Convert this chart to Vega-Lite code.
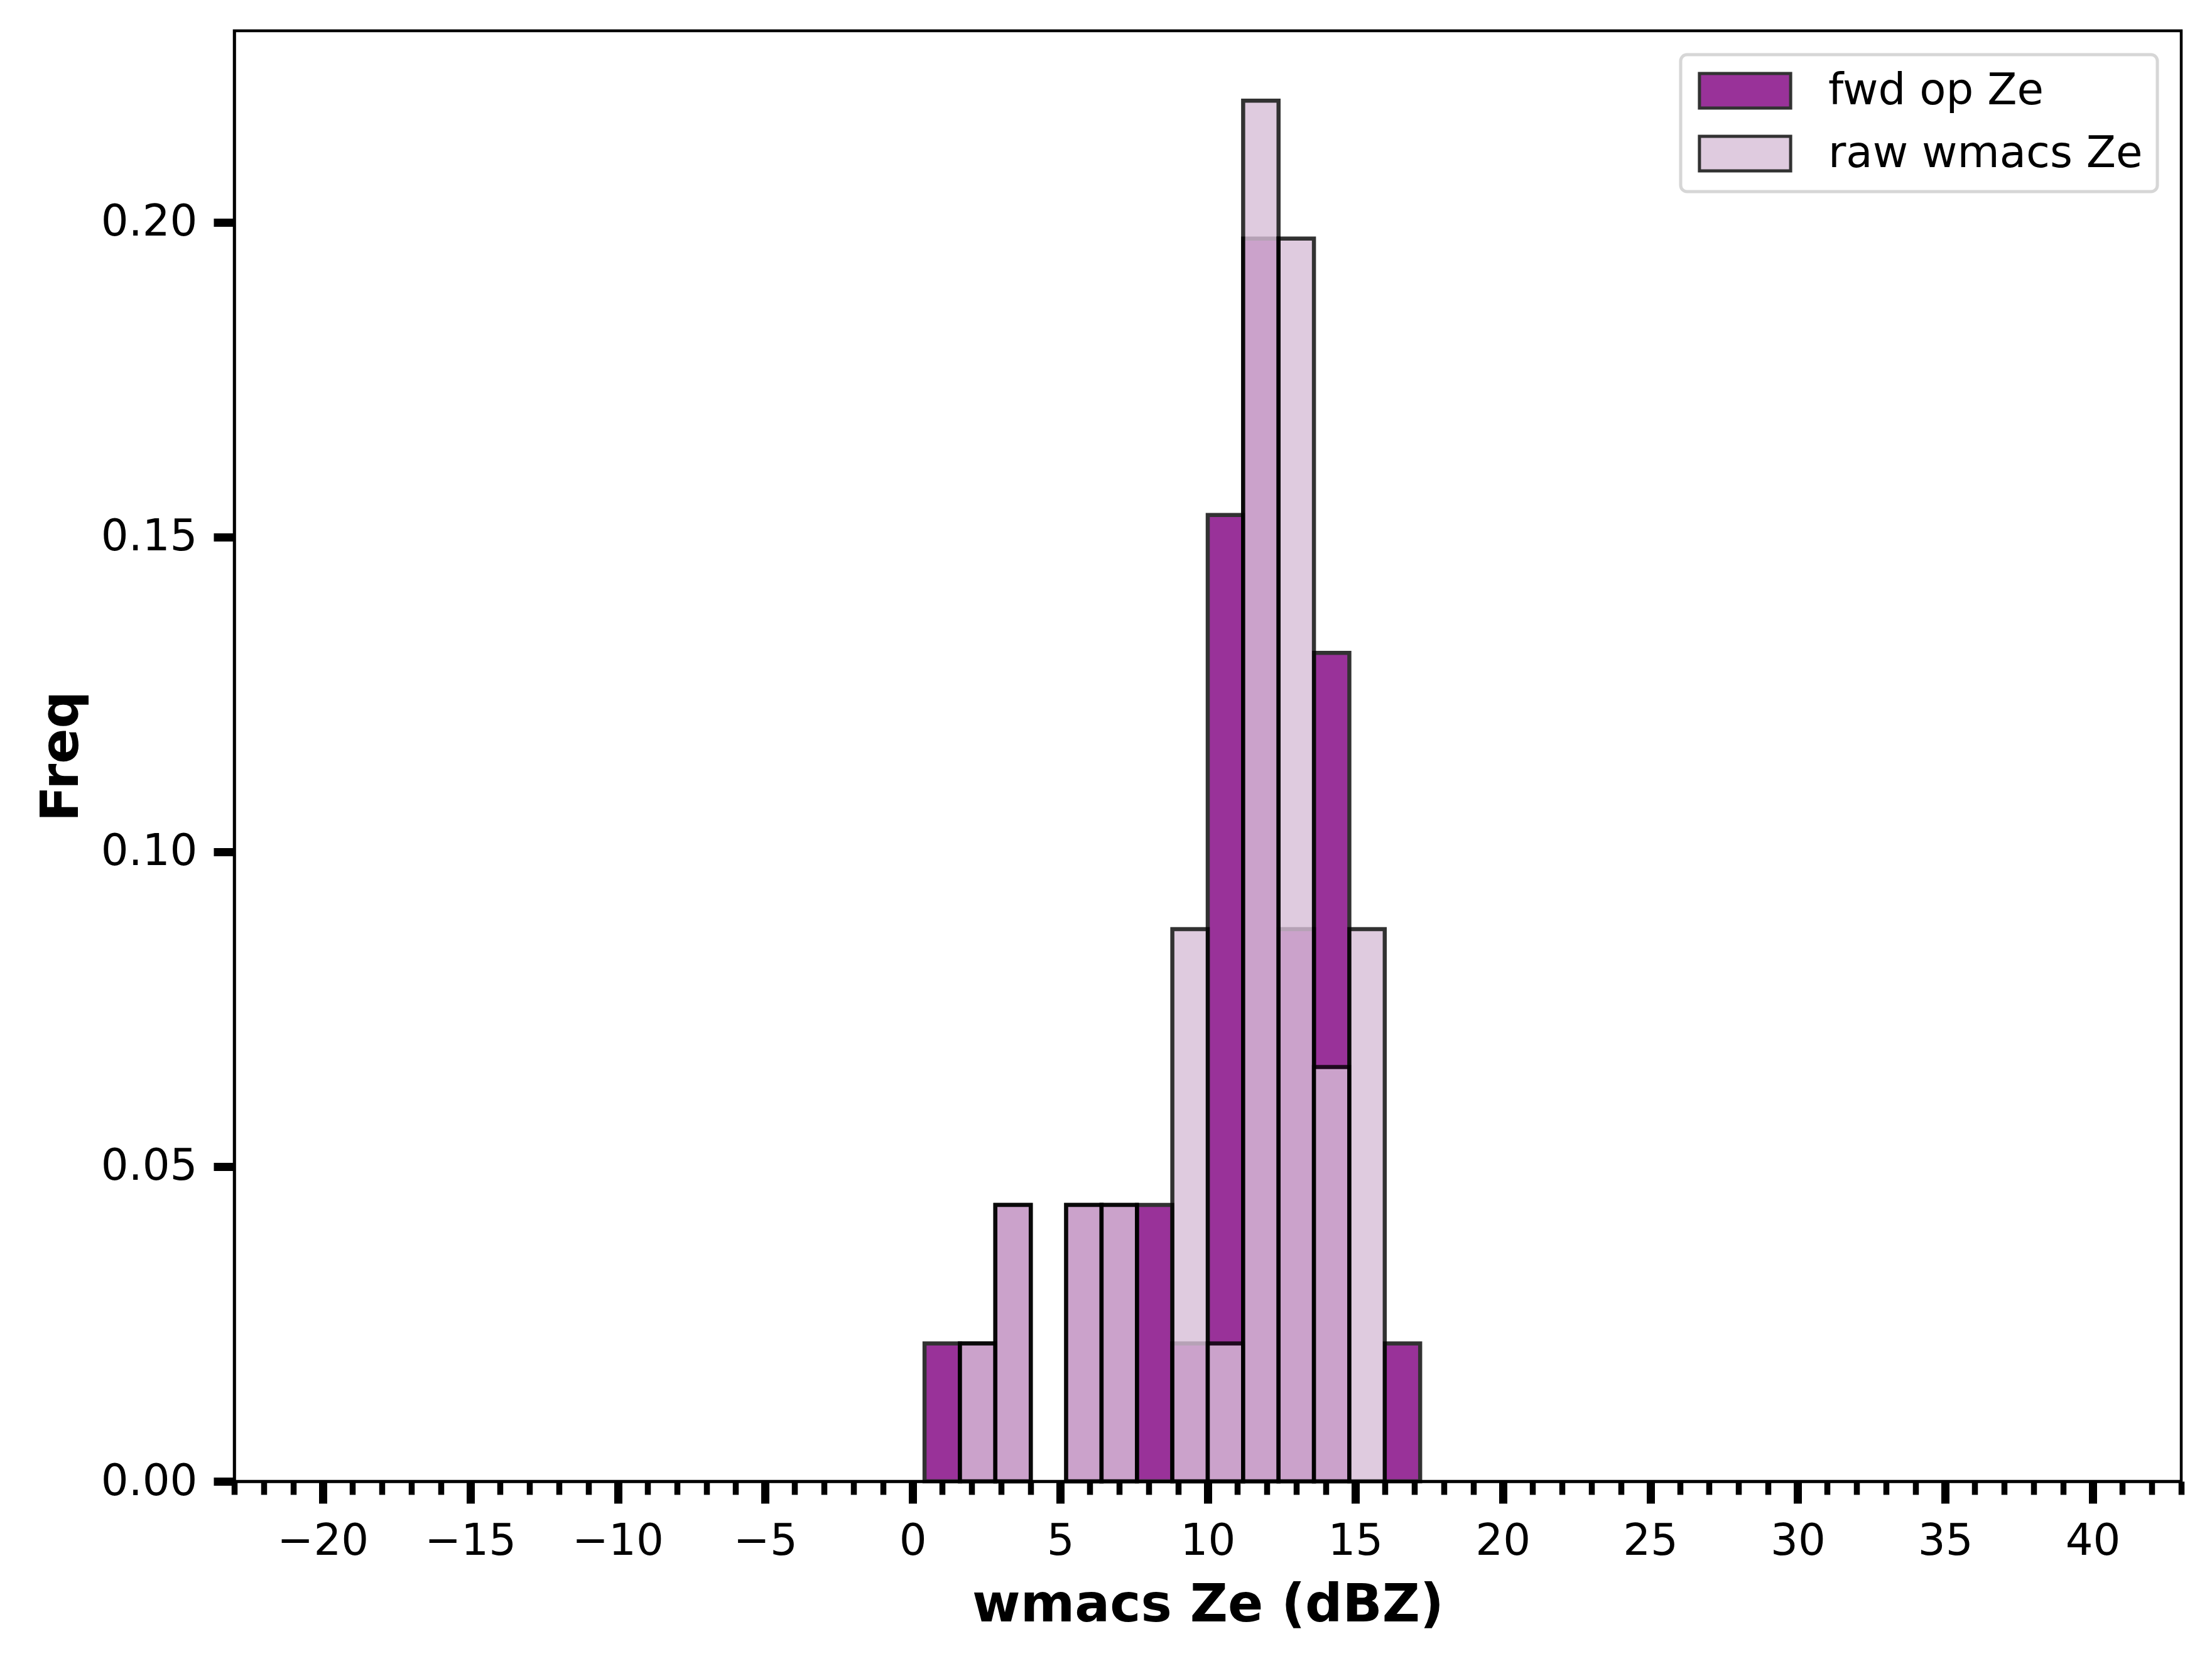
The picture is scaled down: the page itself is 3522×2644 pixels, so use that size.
{
  "$schema": "https://vega.github.io/schema/vega-lite/v6.json",
  "description": "Histogram of wmacs Ze, forward operator vs raw",
  "autosize": "none",
  "width": 3100,
  "height": 2309,
  "padding": {"left": 373, "top": 49, "right": 49, "bottom": 286},
  "background": "white",
  "config": {
    "view": {"stroke": "black", "strokeWidth": 4.5},
    "font": "DejaVu Sans",
    "axis": {
      "grid": false,
      "domainColor": "black",
      "domainWidth": 4.5,
      "tickColor": "black",
      "labelColor": "black",
      "labelFont": "DejaVu Sans",
      "labelFontSize": 69,
      "titleFont": "DejaVu Sans",
      "titleFontSize": 83,
      "titleFontWeight": "bold",
      "titleColor": "black"
    }
  },
  "data": {
    "values": [
      {"series": "fwd op Ze", "bin_start": 0.4, "bin_end": 1.6, "freq": 0.0219},
      {"series": "fwd op Ze", "bin_start": 1.6, "bin_end": 2.8, "freq": 0.0219},
      {"series": "fwd op Ze", "bin_start": 2.8, "bin_end": 4.0, "freq": 0.0439},
      {"series": "fwd op Ze", "bin_start": 5.2, "bin_end": 6.4, "freq": 0.0439},
      {"series": "fwd op Ze", "bin_start": 6.4, "bin_end": 7.6, "freq": 0.0439},
      {"series": "fwd op Ze", "bin_start": 7.6, "bin_end": 8.8, "freq": 0.0439},
      {"series": "fwd op Ze", "bin_start": 8.8, "bin_end": 10.0, "freq": 0.0219},
      {"series": "fwd op Ze", "bin_start": 10.0, "bin_end": 11.2, "freq": 0.1535},
      {"series": "fwd op Ze", "bin_start": 11.2, "bin_end": 12.4, "freq": 0.1974},
      {"series": "fwd op Ze", "bin_start": 12.4, "bin_end": 13.6, "freq": 0.0877},
      {"series": "fwd op Ze", "bin_start": 13.6, "bin_end": 14.8, "freq": 0.1316},
      {"series": "fwd op Ze", "bin_start": 16.0, "bin_end": 17.2, "freq": 0.0219},
      {"series": "raw wmacs Ze", "bin_start": 1.6, "bin_end": 2.8, "freq": 0.0219},
      {"series": "raw wmacs Ze", "bin_start": 2.8, "bin_end": 4.0, "freq": 0.0439},
      {"series": "raw wmacs Ze", "bin_start": 5.2, "bin_end": 6.4, "freq": 0.0439},
      {"series": "raw wmacs Ze", "bin_start": 6.4, "bin_end": 7.6, "freq": 0.0439},
      {"series": "raw wmacs Ze", "bin_start": 8.8, "bin_end": 10.0, "freq": 0.0877},
      {"series": "raw wmacs Ze", "bin_start": 10.0, "bin_end": 11.2, "freq": 0.0219},
      {"series": "raw wmacs Ze", "bin_start": 11.2, "bin_end": 12.4, "freq": 0.2193},
      {"series": "raw wmacs Ze", "bin_start": 12.4, "bin_end": 13.6, "freq": 0.1974},
      {"series": "raw wmacs Ze", "bin_start": 13.6, "bin_end": 14.8, "freq": 0.0658},
      {"series": "raw wmacs Ze", "bin_start": 14.8, "bin_end": 16.0, "freq": 0.0877}
    ]
  },
  "encoding": {
    "x": {
      "field": "bin_start",
      "type": "quantitative",
      "scale": {"domain": [-23, 43], "nice": false, "zero": false},
      "axis": {
        "title": "wmacs Ze (dBZ)",
        "values": [-23, -22, -21, -20, -19, -18, -17, -16, -15, -14, -13, -12, -11, -10, -9, -8, -7, -6, -5, -4, -3, -2, -1, 0, 1, 2, 3, 4, 5, 6, 7, 8, 9, 10, 11, 12, 13, 14, 15, 16, 17, 18, 19, 20, 21, 22, 23, 24, 25, 26, 27, 28, 29, 30, 31, 32, 33, 34, 35, 36, 37, 38, 39, 40, 41, 42, 43],
        "format": "d",
        "labelExpr": "datum.value % 5 === 0 ? datum.label : ''",
        "labelOverlap": false,
        "labelFlush": false,
        "tickSize": {"condition": {"test": "datum.value % 5 === 0", "value": 35}, "value": 21},
        "tickWidth": {"condition": {"test": "datum.value % 5 === 0", "value": 13}, "value": 9.5},
        "labelPadding": 26,
        "titlePadding": 26
      }
    },
    "x2": {"field": "bin_end"},
    "y": {
      "field": "freq",
      "type": "quantitative",
      "stack": null,
      "scale": {"domain": [0, 0.2304], "nice": false},
      "axis": {
        "title": "Freq",
        "values": [0, 0.05, 0.1, 0.15, 0.2],
        "format": ".2f",
        "tickSize": 33,
        "tickWidth": 13,
        "labelPadding": 26,
        "titlePadding": 33
      }
    },
    "y2": {"datum": 0},
    "color": {
      "field": "series",
      "type": "nominal",
      "scale": {"domain": ["fwd op Ze", "raw wmacs Ze"], "range": ["#800080", "#d8bfd8"]},
      "legend": {
        "title": null,
        "orient": "top-right",
        "offset": 38,
        "padding": 23,
        "fillColor": "rgba(255,255,255,0.8)",
        "strokeColor": "#d6d6d6",
        "cornerRadius": 10,
        "symbolType": "M-2.64,-1H2.64V1H-2.64Z",
        "symbolSize": 3025,
        "symbolOffset": 45,
        "symbolOpacity": 0.8,
        "symbolStrokeColor": "black",
        "symbolStrokeWidth": 5,
        "labelOffset": 98,
        "labelFont": "DejaVu Sans",
        "labelFontSize": 69,
        "labelColor": "black",
        "labelLimit": 1000,
        "rowPadding": 25,
        "encode": {"legend": {"update": {"strokeWidth": {"value": 5}}}}
      }
    }
  },
  "layer": [
    {
      "transform": [{"filter": "datum.series === 'fwd op Ze'"}],
      "mark": {"type": "bar", "opacity": 0.8, "stroke": "black", "strokeWidth": 6.5}
    },
    {
      "transform": [{"filter": "datum.series === 'raw wmacs Ze'"}],
      "mark": {"type": "bar", "opacity": 0.8, "stroke": "black", "strokeWidth": 6.5}
    }
  ]
}
